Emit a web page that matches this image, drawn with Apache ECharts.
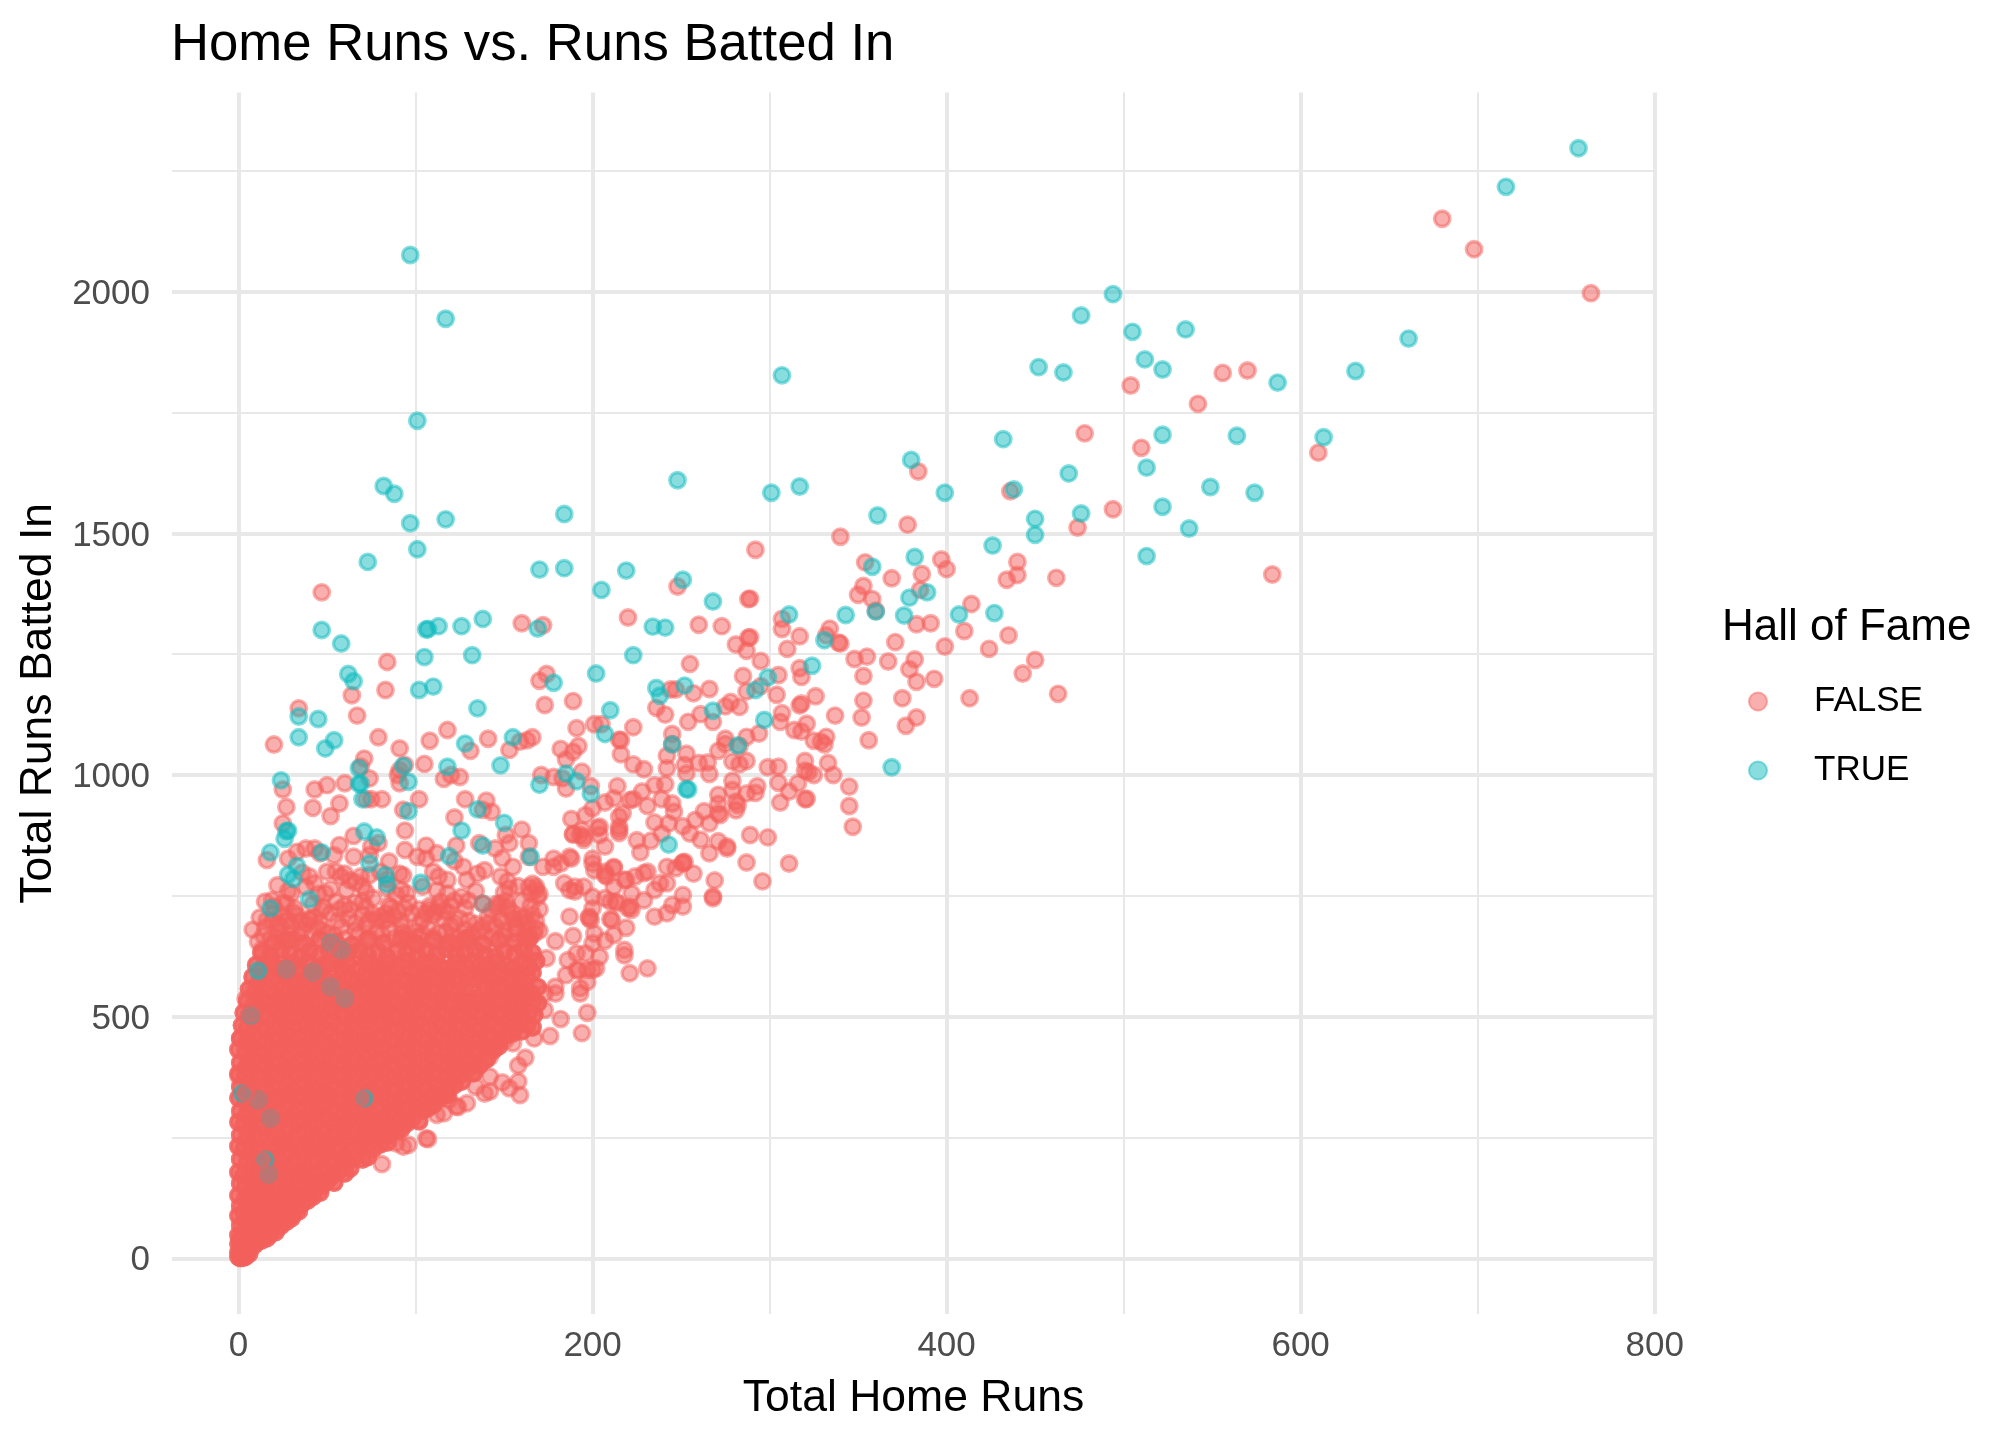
<!DOCTYPE html>
<html><head><meta charset="utf-8">
<style>html,body{margin:0;padding:0;background:#fff}#c{width:2016px;height:1440px}</style>
<script src="https://cdn.jsdelivr.net/npm/echarts@6/dist/echarts.min.js"></script>
</head><body><div id="c"></div>
<script>
const xMajorTicks=[0,200,400,600,800];
const xMinorTicks=[100,300,500,700];
const yMajorTicks=[0,500,1000,1500,2000];
const yMinorTicks=[250,750,1250,1750,2250];
const hofTrue=[[757,2297],[716,2217],[97,2076],[117,1944],[494,1995],[476,1951],[505,1917],[535,1922],[512,1860],[522,1839],[452,1844],[466,1833],[661,1903],[631,1836],[587,1812],[307,1827],[613,1699],[522,1704],[564,1702],[432,1695],[380,1652],[513,1636],[469,1624],[248,1610],[101,1733],[82,1598],[88,1582],[97,1521],[117,1529],[101,1467],[184,1540],[301,1584],[317,1597],[361,1537],[399,1584],[438,1591],[476,1541],[450,1530],[450,1497],[513,1453],[522,1555],[537,1510],[549,1596],[574,1584],[73,1441],[170,1425],[184,1428],[219,1423],[205,1383],[251,1404],[268,1359],[382,1451],[358,1431],[426,1475],[389,1378],[379,1367],[360,1338],[376,1330],[407,1332],[427,1335],[311,1332],[331,1279],[324,1226],[299,1202],[297,1114],[268,1133],[369,1016],[343,1331],[292,1176],[282,1061],
[47,1300],[58,1272],[62,1209],[65,1194],[107,1302],[106,1301],[113,1308],[126,1308],[138,1323],[105,1244],[132,1248],[169,1303],[234,1307],[241,1305],[223,1248],[202,1210],[102,1176],[110,1183],[178,1191],[236,1180],[238,1164],[252,1185],[135,1138],[34,1121],[45,1116],[34,1078],[54,1072],[49,1055],[155,1078],[128,1065],[210,1134],[207,1085],[245,1063],[148,1020],[24,989],[118,1017],[68,1014],[68,982],[69,982],[93,1019],[96,986],[70,950],[185,1003],[191,987],[170,980],[199,961],[253,971],[254,970],[135,929],[96,925],[28,885],[27,884],[26,868],[18,840],[71,883],[78,871],[126,885],[150,901],[138,854],[119,832],[243,856],[33,812],[28,794],[31,785],[47,840],[74,817],[83,793],[84,774],[103,777],[165,831],[138,734],[40,743],[18,724],[52,652],[58,638],[11,595],[27,598],[42,592],[52,562],[60,538],[11,328],[18,290],[71,331],[17,174],[2,341],[15,204],[7,503]];
const hofFalseSparse=[[680,2151],[698,2088],[764,1997],[504,1806],[556,1832],[570,1837],[542,1768],[478,1707],[510,1677],[610,1667],[584,1415],[494,1550],[474,1512],[384,1628],[436,1587],[378,1518],[340,1493],[292,1466],[354,1440],[397,1446],[400,1426],[386,1416],[440,1441],[440,1414],[434,1404],[462,1408],[248,1390],[47,1378],
[369,1407],[353,1391],[350,1373],[358,1364],[385,1383],[360,1340],[414,1354],[383,1312],[391,1314],[371,1275],[410,1298],[399,1266],[424,1261],[435,1289],[450,1238],[443,1210],[463,1168],[413,1159],[393,1199],[382,1239],[379,1219],[383,1193],[367,1235],[348,1240],[355,1245],[353,1205],[353,1154],[352,1119],[375,1159],[383,1119],[377,1102],[356,1072],
[288,1364],[289,1365],[273,1308],[260,1311],[288,1284],[289,1285],[281,1270],[287,1257],[295,1236],[307,1323],[307,1302],[317,1287],[310,1261],[334,1303],[332,1289],[339,1274],[340,1272],[317,1221],[318,1203],[305,1207],[285,1205],[287,1173],[295,1184],[266,1178],[304,1166],[326,1163],[317,1144],[318,1148],[307,1128],[306,1110],[283,1141],[278,1151],[275,1142],[268,1110],[261,1126],[337,1123],[314,1093],[318,1090],[321,1106],[294,1086],[287,1079],[325,1071],[329,1069],[332,1079],[331,1063],[275,1075],[275,1064],[271,1050],[283,1060],[287,1029],[283,1022],[279,1028],[265,1026],[260,1025],[266,1002],[299,1016],[305,1017],[320,1029],[320,1009],[325,1000],[322,1006],[333,1025],[336,1000],[279,988],[279,969],[293,977],[292,963],[287,962],[316,983],[305,984],[311,966],[306,943],[320,950],[321,951],[345,976],[345,936],[347,893],[271,959],[271,940],[271,921],[272,917],[263,925],[281,945],[282,938],[281,927],[266,900],[289,876],[299,871],[271,863],[276,852],[276,848],[261,866],[266,838],[287,819],[311,817],[269,782],[296,780],[268,749],[268,745],
[220,1326],[255,1230],[247,1177],[244,1177],[257,1169],[236,1139],[241,1125],[254,1110],[223,1099],[245,1085],[245,1064],[242,1040],[242,1014],[253,1044],[252,1021],[253,1003],[216,1072],[216,1043],[223,1022],[229,1012],[223,950],[228,966],[235,979],[241,981],[245,941],[231,936],[239,950],[246,924],[258,907],[251,894],[255,879],[235,902],[243,900],[225,865],[227,840],[233,864],[239,879],[215,893],[217,921],[215,914],
[84,1234],[83,1176],[64,1165],[67,1123],[34,1138],[20,1063],[79,1078],[91,1055],[108,1071],[118,1093],[71,1034],[69,1017],[74,993],[94,1021],[91,1010],[105,1023],[141,1075],[131,1050],[153,1052],[159,1069],[166,1078],[163,1072],[116,992],[120,1000],[125,996],[172,1310],[160,1314],[174,1209],[170,1195],[173,1145],[189,1153],[191,1097],[201,1105],[205,1105],[215,1073],[182,1054],[192,1060],[189,1048],[185,1032],[194,1007],[171,1000],[178,996],[183,993],[185,972],[199,977],[214,977],[212,952],[207,943],[188,909],[196,917],[200,931],[189,877],[195,872],[203,890],[207,852],[194,886],[215,880],[221,948],[25,970],[27,934],[43,970],[50,979],[60,983],[42,932],[52,915],[57,941],[25,900],[65,874],[57,855],[79,859],[75,950],[81,950],[72,950],[91,983],[90,1000],[102,950],[93,928],[94,885],[94,845],[101,831],[106,854],[106,827],[128,950],[140,947],[138,928],[143,924],[122,912],[123,854],[136,859],[145,848],[149,828],[151,876],[153,859],[160,887],[164,859],[164,831],[155,810],[16,824],[28,827],[33,841],[38,848],[43,848],[46,838],[54,834],[65,831],[74,834],[75,852],[85,821],[91,796],[93,792],[50,800],[55,800],[60,796],[69,790],[74,793],[22,772],[19,741],[15,738],[30,755],[27,734],[49,755],[43,776],[61,762],[76,745],[70,738],[85,731],[94,724],[104,769],[118,783],[118,755],[129,783],[135,796],[139,803],[153,765],[168,769],[169,748],[178,827],[188,827],[178,810],[172,810],[200,827],[212,810],[201,803],[207,800],[190,769],[200,748],[184,776],[195,769],[213,738],[221,728],[229,741],[219,783],[231,800],[242,810],[251,817],[257,796],[242,776],[251,752],[251,728],[245,731],[235,707],[242,714],[211,700],[219,684],[201,672],[212,669],[207,657],[179,656],[189,667],[218,638],[218,627],[204,624],[202,600],[186,617],[185,586],[192,596],[174,621],[221,590],[231,600],[197,572],[193,559],[179,562],
[251,819],[252,820],[247,807],[238,776],[204,893],[204,876],[193,876],[189,878],[195,866],[215,886],[229,797],[224,790],[222,755],[218,783],[212,807],[207,793],[200,817],[235,762],[214,735],[220,724],[222,721],[210,738],[207,745],[200,724],[198,704],[199,700],[210,702],[200,652],[191,631],[196,631],[197,597],[187,762],[190,759],[187,707],[198,707],[182,817],[187,831],[208,790],[212,769],
[106,248],[107,247],[81,195],[93,231],[96,235],[89,238],[123,314],[124,313],[112,297],[116,300],[129,321],[119,328],[139,341],[142,345],[134,355],[149,364],[153,352],[158,366],[159,338],[142,376],[132,383],[158,399],[162,415],[176,460],[194,466],[182,495],[197,508],[173,514],[173,548],[179,548],[193,548],[191,597],[200,597],[167,455],[155,445],[151,452],[142,417],[138,407],[1,455],[0,377],[4,537],[13,638],[9,559],
[8,680],[15,684],[22,676],[30,688],[36,679],[45,683],[50,672],[58,686],[66,678],[72,690],[78,674],[85,682],[92,688],[100,676],[107,684],[113,673],[120,689],[128,680],[138,675],[145,687],[150,678],[157,684],[163,672],[168,682],
[12,705],[20,712],[28,700],[33,709],[40,702],[52,714],[62,704],[70,711],[82,699],[88,708],[98,713],[104,701],[110,709],[118,716],[125,703],[141,708],[148,700],[155,713],[160,705],[166,711],
[20,728],[25,736],[32,724],[42,733],[48,727],[55,738],[86,726],[96,735],[108,729],[114,738],[128,725],[146,734],[152,727],[160,739],[165,729],[170,722],
[28,760],[38,768],[45,754],[52,764],[72,758],[84,766],[112,761],[150,757],[158,770],[165,755]];
const hofFalseBlobs=[[108,722],[111,716],[113,727],[106,714],[116,720],[22,693],[24,687],[19,698],[27,699],[40,700],[38,692],[43,706],[35,697],[80,707],[78,700],[83,713],[76,712],[84,701],[148,734],[146,726],[151,740],[152,722],[159,700],[157,692],[162,706],[155,703],[163,694],[168,762],[166,775],[170,754],[164,768],[167,672],[165,665],[170,678],[162,668],[138,686],[136,679],[141,693],[134,692],[127,658],[125,665],[130,652],[123,652],[99,652],[97,660],[102,666],[95,668],[25,658],[23,665],[29,668],[32,660],[60,730],[63,722],[57,722],[66,736],[92,762],[95,755],[89,752],[122,740],[126,748],[130,740],[134,760],[58,790],[63,782],[40,790],[36,798],[110,800],[113,790],[148,790],[152,780],[127,810],[122,822],[80,800],[84,784],[112,838],[70,770],[66,778],[131,560],[135,553],[128,557],[133,566],[137,545],[130,540],[134,528],
[14,668],[18,662],[11,655],[34,672],[41,666],[48,678],[54,668],[60,662],[68,672],[74,664],[81,670],[88,662],[93,674],[104,670],[110,664],[117,676],[121,668],[132,670],[143,664],[150,668],[156,672],[162,660],[16,700],[24,712],[31,716],[46,696],[56,698],[66,694],[74,700],[92,698],[102,692],[116,700],[122,694],[130,698],[143,720],[150,694],[168,698],[47,720],[72,726],[90,718],[102,722],[120,730]];
const hofFalseDense=[[0,3],[1,1],[2,5],[3,2],[1,9],[3,8],[4,4],[0,12],[2,14],[4,13],[6,10],[1,18],[3,22],[5,19],[7,24],[0,30],[2,27],[9,28],
[1,38],[4,35],[7,40],[10,33],[13,37],[16,42],[0,48],[3,54],[6,50],[9,57],[12,52],[15,58],[18,50],[21,55],
[1,68],[4,75],[8,70],[11,78],[14,66],[18,73],[21,80],[24,68],[27,76],[30,84],[0,88],[3,95],[7,84],[10,92],[13,87],[17,98],[20,90],[23,95],[26,86],[30,92],[34,98],
[1,108],[5,114],[8,105],[12,116],[15,108],[19,112],[22,103],[26,118],[29,110],[33,106],[36,114],[39,120],[0,130],[4,125],[7,135],[11,128],[14,138],[18,126],[21,133],[25,128],[28,138],[32,130],[35,125],[39,134],[42,128],[46,136],
[1,155],[4,148],[8,158],[12,150],[15,160],[19,153],[22,148],[26,159],[29,152],[33,156],[36,149],[40,161],[44,154],[47,150],[50,160],[54,157],[0,178],[3,172],[7,182],[11,175],[14,170],[18,184],[21,177],[25,172],[28,183],[32,176],[36,171],[39,180],[43,174],[46,185],[50,178],[53,172],[57,182],[60,176],[63,186],
[1,205],[5,198],[8,209],[12,201],[16,196],[19,207],[23,200],[26,211],[30,197],[34,204],[37,210],[41,199],[44,206],[48,213],[52,202],[55,197],[59,208],[62,201],[66,211],[70,205],[73,210],
[0,232],[3,225],[7,236],[11,228],[14,222],[18,234],[22,227],[25,238],[29,224],[33,231],[36,222],[40,236],[44,229],[47,225],[51,237],[55,230],[58,223],[62,235],[65,228],[69,238],[73,232],[76,226],[80,236],[84,240],
[1,255],[5,249],[9,260],[12,252],[16,247],[20,258],[23,250],[27,262],[31,248],[34,255],[38,262],[42,251],[45,246],[49,259],[53,253],[56,261],[60,249],[64,256],[67,263],[71,252],[75,258],[78,248],[82,260],[85,254],[89,263],[92,268],
[0,282],[3,276],[7,288],[11,279],[14,273],[18,285],[22,278],[26,289],[29,274],[33,282],[37,287],[40,277],[44,284],[48,272],[51,288],[55,280],[59,275],[62,286],[66,279],[70,290],[73,276],[77,283],[81,288],[84,278],[88,274],[91,286],[95,280],[98,289],[102,284],
[1,305],[5,299],[8,311],[12,303],[16,298],[19,309],[23,302],[27,313],[30,297],[34,306],[38,312],[41,300],[45,308],[49,296],[52,311],[56,304],[60,299],[63,310],[67,302],[71,313],[74,298],[78,306],[82,312],[85,301],[89,297],[93,309],[96,303],[100,314],[104,306],[107,311],[110,318],
[0,332],[4,326],[7,338],[11,329],[15,323],[18,335],[22,328],[26,339],[29,324],[33,332],[37,337],[40,327],[44,334],[48,322],[51,338],[55,330],[59,325],[62,336],[66,329],[70,340],[73,326],[77,333],[81,338],[84,328],[88,324],[92,336],[95,330],[99,339],[103,332],[106,326],[110,337],[114,331],[118,339],
[1,355],[5,349],[8,361],[12,353],[16,347],[19,359],[23,352],[27,363],[30,348],[34,356],[38,362],[41,350],[45,358],[49,346],[52,361],[56,354],[60,349],[63,360],[67,352],[71,363],[74,348],[78,356],[82,362],[85,351],[89,347],[93,359],[96,353],[100,364],[104,356],[107,350],[111,361],[115,354],[118,347],[122,359],[126,366],
[0,382],[4,376],[7,388],[11,379],[15,373],[18,385],[22,378],[26,389],[29,374],[33,382],[37,387],[40,377],[44,384],[48,372],[51,388],[55,380],[59,375],[62,386],[66,379],[70,390],[73,376],[77,383],[81,388],[84,378],[88,374],[92,386],[95,380],[99,389],[103,382],[106,376],[110,387],[114,381],[118,374],[121,386],[125,379],[129,390],[133,384],
[1,405],[5,399],[8,411],[12,403],[16,397],[19,409],[23,402],[27,413],[30,398],[34,406],[38,412],[41,400],[45,408],[49,396],[52,411],[56,404],[60,399],[63,410],[67,402],[71,413],[74,398],[78,406],[82,412],[85,401],[89,397],[93,409],[96,403],[100,414],[104,406],[107,400],[111,411],[115,404],[118,397],[122,409],[126,402],[129,413],[133,406],[136,400],[140,412],
[0,432],[4,426],[7,438],[11,429],[15,423],[18,435],[22,428],[26,439],[29,424],[33,432],[37,437],[40,427],[44,434],[48,422],[51,438],[55,430],[59,425],[62,436],[66,429],[70,440],[73,426],[77,433],[81,438],[84,428],[88,424],[92,436],[95,430],[99,439],[103,432],[106,426],[110,437],[114,431],[118,424],[121,436],[125,429],[129,440],[133,432],[136,426],[140,438],[144,431],[147,439],
[1,455],[5,449],[8,461],[12,453],[16,447],[19,459],[23,452],[27,463],[30,448],[34,456],[38,462],[41,450],[45,458],[49,446],[52,461],[56,454],[60,449],[63,460],[67,452],[71,463],[74,448],[78,456],[82,462],[85,451],[89,447],[93,459],[96,453],[100,464],[104,456],[107,450],[111,461],[115,454],[118,447],[122,459],[126,452],[129,463],[133,456],[136,450],[140,462],[144,455],[147,449],[151,461],[155,466],[160,470],
[2,482],[5,476],[9,488],[13,479],[16,473],[20,485],[24,478],[27,489],[31,474],[35,482],[38,487],[42,477],[46,484],[49,472],[53,488],[57,480],[60,475],[64,486],[68,479],[71,490],[75,476],[79,483],[82,488],[86,478],[90,474],[93,486],[97,480],[101,489],[104,482],[108,476],[112,487],[115,481],[119,474],[123,486],[126,479],[130,490],[134,482],[137,476],[141,488],[145,481],[148,475],[152,487],[156,480],[159,491],[163,484],[166,478],
[3,508],[6,502],[10,513],[14,505],[17,499],[21,511],[25,504],[28,515],[32,500],[36,508],[39,513],[43,503],[47,510],[50,498],[54,514],[58,506],[61,501],[65,512],[69,505],[72,516],[76,502],[80,509],[83,514],[87,504],[91,500],[94,512],[98,506],[102,515],[105,508],[109,502],[113,513],[116,507],[120,500],[124,512],[127,505],[131,516],[135,508],[138,502],[142,514],[146,507],[149,501],[153,513],[157,506],[160,517],[164,510],[167,504],
[5,532],[9,526],[12,538],[16,529],[20,523],[23,535],[27,528],[31,539],[34,524],[38,532],[42,537],[45,527],[49,534],[53,522],[56,538],[60,530],[64,525],[67,536],[71,529],[75,540],[78,526],[82,533],[86,538],[89,528],[93,524],[97,536],[100,530],[104,539],[108,532],[111,526],[115,537],[119,531],[122,524],[126,536],[129,529],[137,532],[141,526],[144,538],[148,531],[152,525],[155,537],[159,530],[162,541],[166,534],[169,528],
[6,557],[10,551],[14,563],[17,554],[21,548],[25,560],[28,553],[32,564],[36,549],[39,557],[43,562],[47,552],[50,559],[54,547],[58,563],[61,555],[65,550],[69,561],[72,554],[76,565],[80,551],[83,558],[87,563],[91,553],[94,549],[98,561],[102,555],[105,564],[109,557],[113,551],[116,562],[120,556],[124,549],[140,561],[144,554],[147,565],[151,557],[155,551],[158,563],[162,556],[165,549],[169,561],
[8,582],[12,576],[16,588],[19,579],[23,573],[27,585],[30,578],[34,589],[38,574],[41,582],[45,587],[49,577],[52,584],[56,572],[60,588],[63,580],[67,575],[71,586],[74,579],[78,590],[82,576],[85,583],[89,588],[93,578],[96,574],[100,586],[104,580],[107,589],[111,582],[115,576],[118,587],[122,581],[126,574],[129,586],[133,579],[137,590],[141,582],[144,576],[148,588],[152,581],[155,575],[159,587],[163,580],[166,591],
[10,607],[14,601],[18,613],[21,604],[25,598],[30,610],[34,603],[39,614],[44,599],[48,607],[53,612],[58,602],[62,609],[67,597],[72,613],[76,605],[81,600],[85,611],[90,604],[95,615],[100,601],[104,608],[109,613],[114,603],[118,599],[123,611],[128,605],[132,614],[137,607],[141,601],[146,612],[151,606],[155,599],[160,611],[164,604],[168,615],
[13,632],[18,626],[24,638],[29,629],[35,623],[40,635],[46,628],[51,639],[57,624],[62,632],[68,637],[73,627],[79,634],[84,622],[90,638],[95,630],[101,625],[106,636],[112,629],[117,640],[123,626],[128,633],[134,638],[139,628],[145,624],[150,636],[156,630],[161,639],[166,632],
[20,652],[28,658],[37,650],[46,660],[55,654],[64,648],[73,659],[82,652],[92,661],[101,650],[110,658],[119,653],[129,662],[138,650],[147,658],[156,654],[164,662]];
const hofFalseOver=[[11,328],[18,290],[69,331],[17,174],[13,204],[4,341],[27,598],[42,592],[52,562],[60,538],[138,734],[52,650],[58,637],[7,505]];

const pink='rgba(244,97,92,0.63)', teal='rgba(16,186,191,0.62)';
const font='"Liberation Sans"';
const dot=(c)=>({color:c,borderColor:c,borderWidth:3.4});
const common={type:'scatter',symbol:'circle',symbolSize:15.5,silent:true,animation:false,progressive:0,xAxisIndex:0,yAxisIndex:0};
const chart=echarts.init(document.getElementById('c'),null,{renderer:'canvas',width:2016,height:1440});
const majorLine={show:true,lineStyle:{color:'#E8E8E8',width:4}};
const minorLine={show:true,lineStyle:{color:'#E8E8E8',width:2}};
const lab={color:'#4D4D4D',fontSize:35,fontFamily:font,formatter:(v)=>String(v)};
const nm={color:'#000',fontSize:44.5,fontFamily:font};
chart.setOption({
 animation:false,backgroundColor:'#fff',
 title:[{text:'Home Runs vs. Runs Batted In',left:166,top:14,textStyle:{color:'#000',fontSize:52.7,fontWeight:'normal',fontFamily:font}},
        {text:'Hall of Fame',left:1717,top:601,textStyle:{color:'#000',fontSize:44,fontWeight:'normal',fontFamily:font}}],
 grid:{left:172,right:361,top:92.6,bottom:126,containLabel:false},
 legend:{data:['FALSE','TRUE'],orient:'vertical',left:1743,top:679,icon:'circle',itemWidth:18,itemHeight:18,itemGap:34,
   textStyle:{color:'#000',fontSize:35,fontFamily:font,padding:[0,0,0,42]}},
 xAxis:[
  {type:'value',min:-37.6,max:800.2,position:'bottom',axisLine:{show:false},axisTick:{show:false,customValues:xMajorTicks},
   axisLabel:{...lab,margin:15,customValues:xMajorTicks},splitLine:majorLine,
   name:'Total Home Runs',nameLocation:'middle',nameGap:62,nameTextStyle:nm},
  {type:'value',min:-37.6,max:800.2,position:'top',axisLine:{show:false},axisTick:{show:false,customValues:xMinorTicks},
   axisLabel:{show:false},splitLine:minorLine}
 ],
 yAxis:[
  {type:'value',min:-115.2,max:2412,position:'left',axisLine:{show:false},axisTick:{show:false,customValues:yMajorTicks},
   axisLabel:{...lab,margin:22,verticalAlign:'top',lineHeight:5,customValues:yMajorTicks},splitLine:majorLine,
   name:'Total Runs Batted In',nameLocation:'middle',nameGap:97,nameTextStyle:nm},
  {type:'value',min:-115.2,max:2412,position:'right',axisLine:{show:false},axisTick:{show:false,customValues:yMinorTicks},
   axisLabel:{show:false},splitLine:minorLine}
 ],
 series:[
  {...common,name:'FALSE',z:2,itemStyle:dot(pink),data:hofFalseSparse.concat(hofFalseBlobs,hofFalseDense,hofFalseDense,hofFalseDense)},
  {...common,name:'TRUE',z:3,itemStyle:dot(teal),data:hofTrue},
  {...common,name:'FALSE',z:4,itemStyle:dot(pink),data:hofFalseOver}
 ]
});
</script></body></html>
